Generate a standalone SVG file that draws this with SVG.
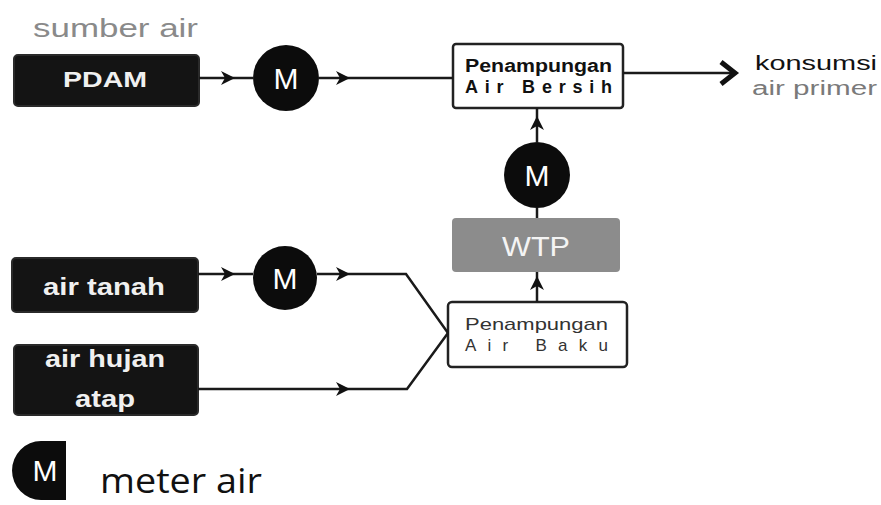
<svg xmlns="http://www.w3.org/2000/svg" width="881" height="505" viewBox="0 0 881 505">
  <style>
    .src { fill: #141414; stroke: #2a2a2a; stroke-width: 2; }
    .srcText { font-family: "Liberation Sans", Arial, sans-serif; fill: #f0f0f0; }
    .meter { fill: #0c0c0c; }
    .meterText { font-family: "Liberation Sans", Arial, sans-serif; fill: #ffffff; font-size: 30px; text-anchor: middle; }
    .tank { fill: #ffffff; stroke: #222; stroke-width: 2.5; }
    .flow { fill: none; stroke: #1a1a1a; stroke-width: 2.5; }
    .label { font-family: "Liberation Sans", Arial, sans-serif; }
  </style>
  <defs>
    <marker id="head" viewBox="0 0 14 16" refX="14" refY="8" markerWidth="14" markerHeight="16" orient="auto" markerUnits="userSpaceOnUse">
      <path d="M0,1 L14,8 L0,15 L4,8 Z" fill="#111"/>
    </marker>
  </defs>
  <rect width="881" height="505" fill="#ffffff"/>

  <text class="label" x="33" y="37" font-size="26" fill="#8a8a8a" textLength="165" lengthAdjust="spacingAndGlyphs">sumber air</text>

  <!-- sources -->
  <g id="pdam">
    <rect class="src" x="14" y="55" width="185" height="51" rx="4"/>
    <text class="srcText" x="63" y="87" font-size="22" font-weight="bold" textLength="84" lengthAdjust="spacingAndGlyphs">PDAM</text>
  </g>
  <g id="air-tanah">
    <rect class="src" x="12" y="258" width="186" height="54" rx="4"/>
    <text class="srcText" x="43" y="295" font-size="24" font-weight="bold" textLength="122" lengthAdjust="spacingAndGlyphs">air tanah</text>
  </g>
  <g id="air-hujan">
    <rect class="src" x="14" y="345" width="184" height="70" rx="4"/>
    <text class="srcText" x="45" y="367" font-size="24" font-weight="bold" textLength="120" lengthAdjust="spacingAndGlyphs">air hujan</text>
    <text class="srcText" x="75" y="407" font-size="24" font-weight="bold" textLength="60" lengthAdjust="spacingAndGlyphs">atap</text>
  </g>

  <!-- meters -->
  <g id="meter-pdam">
    <circle class="meter" cx="286" cy="78" r="33"/>
    <text class="meterText" x="286" y="89">M</text>
  </g>
  <g id="meter-tanah">
    <circle class="meter" cx="285" cy="278" r="32"/>
    <text class="meterText" x="285" y="289">M</text>
  </g>
  <g id="meter-wtp">
    <circle class="meter" cx="537" cy="175" r="33"/>
    <text class="meterText" x="537" y="186">M</text>
  </g>

  <!-- treatment and storage -->
  <g id="wtp">
    <rect x="452" y="218" width="168" height="54" rx="4" fill="#8c8c8c"/>
    <text class="label" x="536" y="256" font-size="28" fill="#f4f4f4" text-anchor="middle" textLength="68" lengthAdjust="spacingAndGlyphs">WTP</text>
  </g>
  <g id="penampungan-bersih">
    <rect class="tank" x="453" y="44" width="170" height="64" rx="3"/>
    <text class="label" x="465" y="72" font-size="18" font-weight="bold" fill="#111" textLength="147" lengthAdjust="spacingAndGlyphs">Penampungan</text>
    <text class="label" x="465" y="93" font-size="18" font-weight="bold" fill="#111" textLength="147" lengthAdjust="spacing">Air  Bersih</text>
  </g>
  <g id="penampungan-baku">
    <rect class="tank" x="448" y="302" width="179" height="65" rx="4"/>
    <text class="label" x="465" y="330" font-size="17" fill="#333" textLength="143" lengthAdjust="spacingAndGlyphs">Penampungan</text>
    <text class="label" x="465" y="351" font-size="17" fill="#333" textLength="143" lengthAdjust="spacing">Air  Baku</text>
  </g>

  <g id="konsumsi">
    <text class="label" x="755" y="70" font-size="20" fill="#111" textLength="122" lengthAdjust="spacingAndGlyphs">konsumsi</text>
    <text class="label" x="752" y="95" font-size="20" fill="#7a7a7a" textLength="125" lengthAdjust="spacingAndGlyphs">air primer</text>
  </g>

  <!-- connectors -->
  <g id="connectors">
    <path class="flow" d="M199,78 L235,78" marker-end="url(#head)"/>
    <path class="flow" d="M235,78 L253,78"/>
    <path class="flow" d="M319,78 L350,78" marker-end="url(#head)"/>
    <path class="flow" d="M350,78 L453,78"/>

    <path class="flow" d="M198,274 L235,274" marker-end="url(#head)"/>
    <path class="flow" d="M235,274 L253,274"/>
    <path class="flow" d="M317,274 L350,274" marker-end="url(#head)"/>
    <path class="flow" d="M350,274 L406,274 L448,333"/>

    <path class="flow" d="M198,389 L350,389" marker-end="url(#head)"/>
    <path class="flow" d="M350,389 L407,389 L448,333"/>

    <path class="flow" d="M537,302 L537,276" marker-end="url(#head)"/>
    <path class="flow" d="M537,276 L537,272"/>
    <path class="flow" d="M537,218 L537,208"/>
    <path class="flow" d="M537,142 L537,116" marker-end="url(#head)"/>
    <path class="flow" d="M537,116 L537,108"/>

    <path class="flow" d="M623,73 L734,73"/>
    <path d="M721,62 L735,73 L721,84" fill="none" stroke="#111" stroke-width="5"/>
  </g>

  <!-- legend -->
  <g id="legend">
    <path d="M66,441 L41,441 A29,29.5 0 0 0 41,500 L66,500 Z" fill="#0c0c0c"/>
    <text class="meterText" x="45" y="481" font-size="28">M</text>
    <text x="100" y="493" font-size="34" fill="#111" style="font-family: 'Open Sans', 'Liberation Sans', sans-serif" textLength="162" lengthAdjust="spacingAndGlyphs">meter air</text>
  </g>
</svg>
